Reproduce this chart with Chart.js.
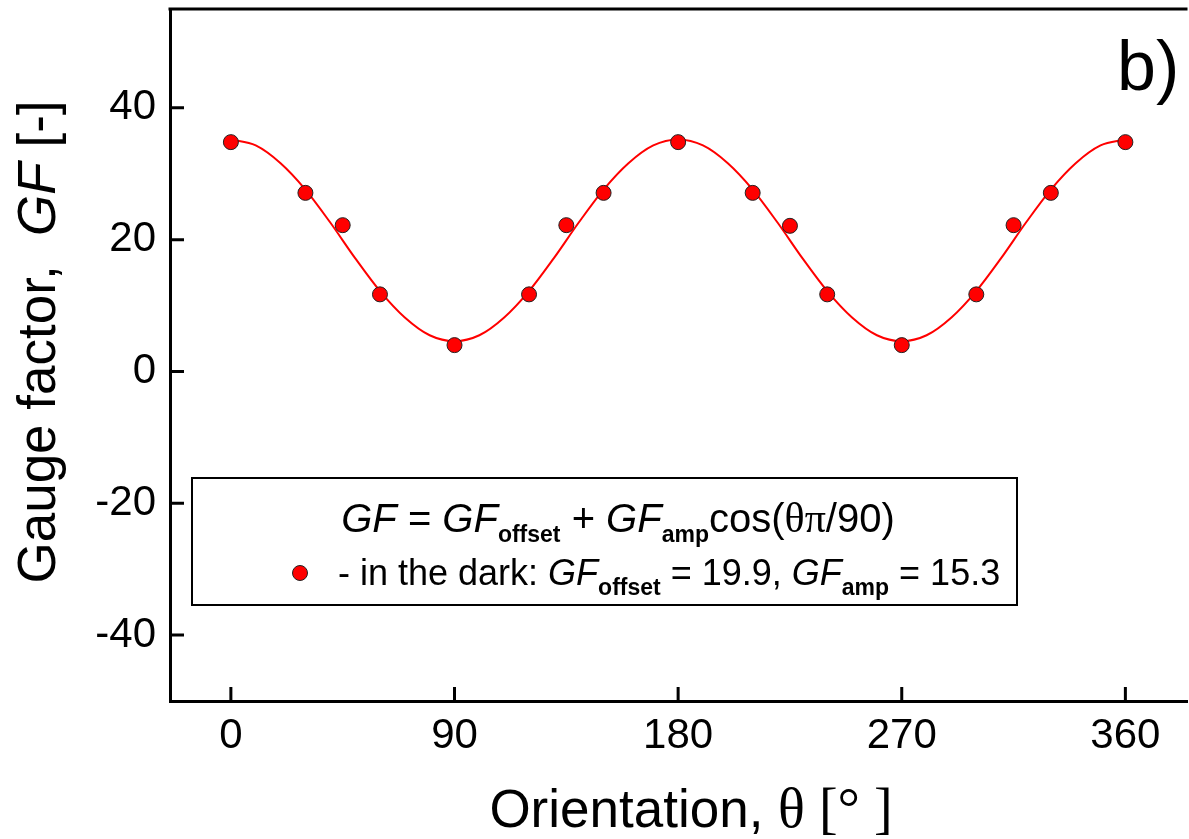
<!DOCTYPE html>
<html>
<head>
<meta charset="utf-8">
<title>Gauge factor vs orientation</title>
<script src="https://cdn.jsdelivr.net/npm/chart.js@4.4.1/dist/chart.umd.min.js"></script>
<style>
  html, body { margin: 0; padding: 0; background: #fff; overflow: hidden; }
</style>
</head>
<body>
<canvas id="gfChart" width="1196" height="839"></canvas>
<script>
// measured points, in the dark
const angles = [0, 30, 45, 60, 90, 120, 135, 150, 180, 210, 225, 240, 270, 300, 315, 330, 360];
const gfDark = [34.8, 27.1, 22.2, 11.7, 4.0, 11.7, 22.2, 27.1, 34.8, 27.1, 22.1, 11.7, 4.0, 11.7, 22.2, 27.1, 34.8];

// fitted curve, every 10 degrees
const fitAngles = [0, 10, 20, 30, 40, 50, 60, 70, 80, 90, 100, 110, 120, 130, 140, 150, 160, 170, 180,
                   190, 200, 210, 220, 230, 240, 250, 260, 270, 280, 290, 300, 310, 320, 330, 340, 350, 360];
const fitValues = [35.2, 34.3, 31.6, 27.6, 22.6, 17.2, 12.2, 8.2, 5.5, 4.6, 5.5, 8.2, 12.2, 17.2, 22.6, 27.6, 31.6, 34.3, 35.2,
                   34.3, 31.6, 27.6, 22.6, 17.2, 12.2, 8.2, 5.5, 4.6, 5.5, 8.2, 12.2, 17.2, 22.6, 27.6, 31.6, 34.3, 35.2];

const xTicks = [0, 90, 180, 270, 360];
const yTicks = [-40, -20, 0, 20, 40];

const SANS = '"Liberation Sans", Arial, sans-serif';
const SERIF = '"Liberation Serif", "Times New Roman", serif';

// draw a row of text pieces with different fonts (for italics and subscripts)
function drawRuns(ctx, runs, x, y, align) {
    let total = 0;
    runs.forEach(r => { ctx.font = r.font; r.w = ctx.measureText(r.text).width; total += r.w; });
    let cx = align === 'center' ? x - total / 2 : x;
    ctx.textAlign = 'left';
    runs.forEach(r => {
        ctx.font = r.font;
        ctx.fillText(r.text, cx, y + (r.dy || 0));
        cx += r.w;
    });
}

// ticks pointing into the plot, plus the top frame line
const innerTicks = {
    id: 'innerTicks',
    afterDraw(chart) {
        const { ctx, chartArea, scales: { x, y } } = chart;
        ctx.save();
        ctx.strokeStyle = '#000';
        ctx.lineWidth = 3;
        ctx.beginPath();
        x.ticks.forEach(t => {
            const px = x.getPixelForValue(t.value);
            ctx.moveTo(px, chartArea.bottom);
            ctx.lineTo(px, chartArea.bottom - 14);
        });
        y.ticks.forEach(t => {
            const py = y.getPixelForValue(t.value);
            ctx.moveTo(chartArea.left, py);
            ctx.lineTo(chartArea.left + 14, py);
        });
        ctx.moveTo(chartArea.left - 1.5, chartArea.top);
        ctx.lineTo(chartArea.right, chartArea.top);
        ctx.stroke();
        ctx.restore();
    }
};

// axis titles, panel letter and the legend box
const annotations = {
    id: 'annotations',
    afterDraw(chart) {
        const ctx = chart.ctx;
        ctx.save();
        ctx.fillStyle = '#000';
        ctx.textBaseline = 'alphabetic';

        // y axis title
        ctx.save();
        ctx.translate(55, 342);
        ctx.rotate(-Math.PI / 2);
        drawRuns(ctx, [
            { text: 'Gauge factor,  ', font: '53px ' + SANS },
            { text: 'GF', font: 'italic 53px ' + SANS },
            { text: ' [-]', font: '53px ' + SANS }
        ], 0, 0, 'center');
        ctx.restore();

        // x axis title
        drawRuns(ctx, [
            { text: 'Orientation, ', font: '53px ' + SANS },
            { text: 'θ [° ]', font: '56px ' + SERIF }
        ], 691, 827, 'center');

        // panel letter
        ctx.font = '70px ' + SANS;
        ctx.fillText('b)', 1117, 90);

        // legend box
        ctx.lineWidth = 2;
        ctx.strokeStyle = '#000';
        ctx.strokeRect(192, 478, 825, 127);

        drawRuns(ctx, [
            { text: 'GF', font: 'italic 40px ' + SANS },
            { text: ' = ', font: '40px ' + SANS },
            { text: 'GF', font: 'italic 40px ' + SANS },
            { text: 'offset', font: 'bold 23px ' + SANS, dy: 10 },
            { text: ' + ', font: '40px ' + SANS },
            { text: 'GF', font: 'italic 40px ' + SANS },
            { text: 'amp', font: 'bold 23px ' + SANS, dy: 10 },
            { text: 'cos(', font: '40px ' + SANS },
            { text: 'θπ', font: '42px ' + SERIF },
            { text: '/90)', font: '40px ' + SANS }
        ], 618, 532, 'center');

        ctx.beginPath();
        ctx.arc(300, 573, 7.5, 0, Math.PI * 2);
        ctx.fillStyle = '#ff0000';
        ctx.fill();
        ctx.lineWidth = 1;
        ctx.strokeStyle = '#222';
        ctx.stroke();

        ctx.fillStyle = '#000';
        drawRuns(ctx, [
            { text: '- in the dark: ', font: '36px ' + SANS },
            { text: 'GF', font: 'italic 36px ' + SANS },
            { text: 'offset', font: 'bold 23px ' + SANS, dy: 10 },
            { text: ' = 19.9, ', font: '36px ' + SANS },
            { text: 'GF', font: 'italic 36px ' + SANS },
            { text: 'amp', font: 'bold 23px ' + SANS, dy: 10 },
            { text: ' = 15.3', font: '36px ' + SANS }
        ], 338, 585, 'left');

        ctx.restore();
    }
};

const ctx = document.getElementById('gfChart').getContext('2d');
new Chart(ctx, {
    type: 'scatter',
    data: {
        datasets: [
            {
                label: 'in the dark',
                data: angles.map((a, i) => ({ x: a, y: gfDark[i] })),
                backgroundColor: '#ff0000',
                borderColor: '#222',
                borderWidth: 1,
                pointRadius: 7.5,
                pointHoverRadius: 7.5
            },
            {
                label: 'fit',
                data: fitAngles.map((a, i) => ({ x: a, y: fitValues[i] })),
                showLine: true,
                borderColor: '#ff0000',
                borderWidth: 2,
                pointRadius: 0,
                cubicInterpolationMode: 'monotone'
            }
        ]
    },
    options: {
        responsive: false,
        animation: false,
        devicePixelRatio: 1,
        layout: { padding: { top: 9, right: 3, left: 0, bottom: 0 } },
        plugins: {
            legend: { display: false },
            tooltip: { enabled: false }
        },
        scales: {
            x: {
                type: 'linear',
                min: -24.5,
                max: 385,
                afterBuildTicks: s => { s.ticks = xTicks.map(v => ({ value: v })); },
                afterFit: s => { s.height = 138; s.paddingLeft = 0; s.paddingRight = 0; },
                ticks: {
                    color: '#000',
                    padding: 10,
                    font: { family: SANS, size: 42 }
                },
                grid: { display: false, drawTicks: false },
                border: { display: true, color: '#000', width: 3 }
            },
            y: {
                min: -50,
                max: 55,
                afterBuildTicks: s => { s.ticks = yTicks.map(v => ({ value: v })); },
                afterFit: s => { s.width = 170; s.paddingTop = 0; s.paddingBottom = 0; },
                ticks: {
                    color: '#000',
                    padding: 14,
                    font: { family: SANS, size: 42 }
                },
                grid: { display: false, drawTicks: false },
                border: { display: true, color: '#000', width: 3 }
            }
        }
    },
    plugins: [innerTicks, annotations]
});
</script>
</body>
</html>
